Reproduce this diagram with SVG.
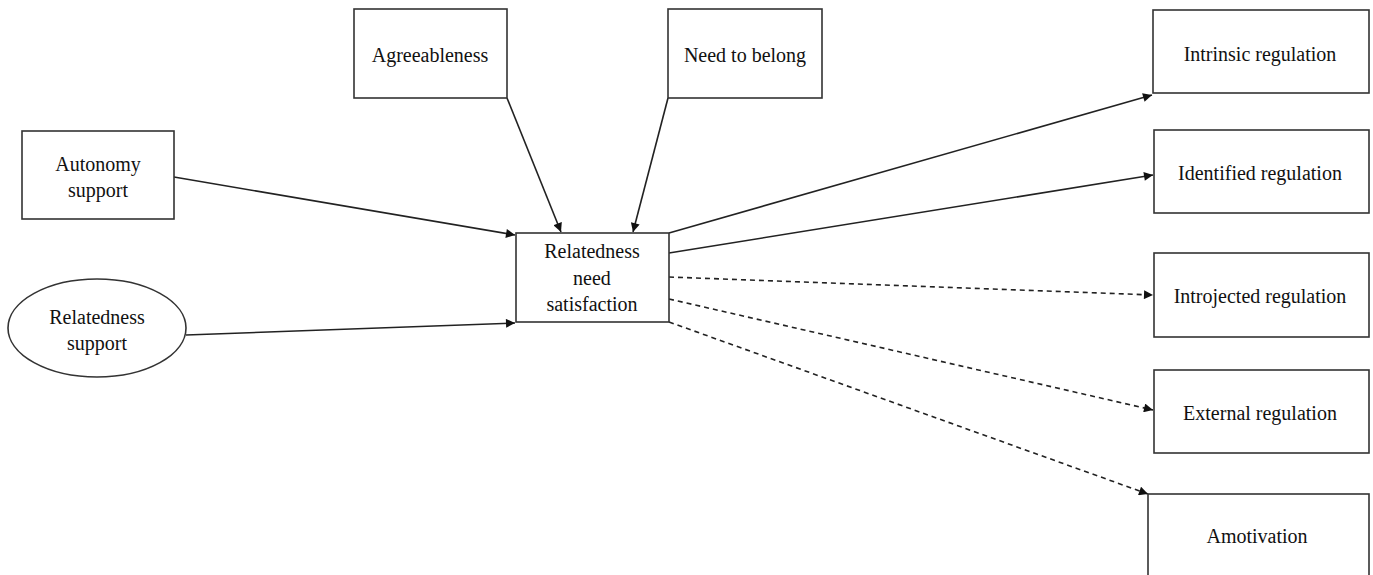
<svg xmlns="http://www.w3.org/2000/svg" width="1373" height="575" viewBox="0 0 1373 575">
<defs>
<marker id="ah" viewBox="0 0 10 10" refX="10" refY="5" markerWidth="10" markerHeight="9" markerUnits="userSpaceOnUse" orient="auto">
<path d="M0,0 L10,5 L0,10 z" fill="#111"/>
</marker>
<style>
.box{fill:#fff;stroke:#333;stroke-width:1.6}
.t{font-family:"Liberation Serif","Times New Roman",serif;font-size:20px;fill:#111;text-anchor:middle}
.c{stroke:#222;stroke-width:1.6;fill:none;marker-end:url(#ah)}
.d{stroke-dasharray:5,4}
</style>
</defs>
<rect width="1373" height="575" fill="#fff"/>
<g id="connectors">
<line class="c" x1="174" y1="177" x2="515" y2="235"/>
<line class="c" x1="186" y1="335" x2="515" y2="323"/>
<line class="c" x1="507" y1="98" x2="561" y2="232"/>
<line class="c" x1="668" y1="98" x2="633" y2="232"/>
<line class="c" x1="669" y1="233" x2="1152" y2="95"/>
<line class="c" x1="669" y1="253" x2="1153" y2="175"/>
<line class="c d" x1="669" y1="277" x2="1153" y2="295"/>
<line class="c d" x1="669" y1="299" x2="1153" y2="410"/>
<line class="c d" x1="669" y1="322" x2="1148" y2="494"/>
</g>
<g id="autonomy">
<rect class="box" x="22" y="131" width="152" height="88"/>
<text class="t" x="98" y="171">Autonomy</text>
<text class="t" x="98" y="197">support</text>
</g>
<g id="relatedness-support">
<ellipse class="box" cx="97" cy="328" rx="89" ry="49"/>
<text class="t" x="97" y="324">Relatedness</text>
<text class="t" x="97" y="350">support</text>
</g>
<g id="agreeableness">
<rect class="box" x="354" y="9" width="153" height="89"/>
<text class="t" x="430" y="62">Agreeableness</text>
</g>
<g id="need-to-belong">
<rect class="box" x="668" y="9" width="154" height="89"/>
<text class="t" x="745" y="62">Need to belong</text>
</g>
<g id="relatedness-need">
<rect class="box" x="516" y="233" width="153" height="89"/>
<text class="t" x="592" y="258">Relatedness</text>
<text class="t" x="592" y="285">need</text>
<text class="t" x="592" y="311">satisfaction</text>
</g>
<g id="intrinsic">
<rect class="box" x="1153" y="10" width="216" height="83"/>
<text class="t" x="1260" y="61">Intrinsic regulation</text>
</g>
<g id="identified">
<rect class="box" x="1154" y="130" width="215" height="83"/>
<text class="t" x="1260" y="180">Identified regulation</text>
</g>
<g id="introjected">
<rect class="box" x="1154" y="253" width="215" height="84"/>
<text class="t" x="1260" y="303">Introjected regulation</text>
</g>
<g id="external">
<rect class="box" x="1154" y="370" width="215" height="83"/>
<text class="t" x="1260" y="420">External regulation</text>
</g>
<g id="amotivation">
<rect class="box" x="1148" y="494" width="221" height="100"/>
<text class="t" x="1257" y="543">Amotivation</text>
</g>
</svg>
